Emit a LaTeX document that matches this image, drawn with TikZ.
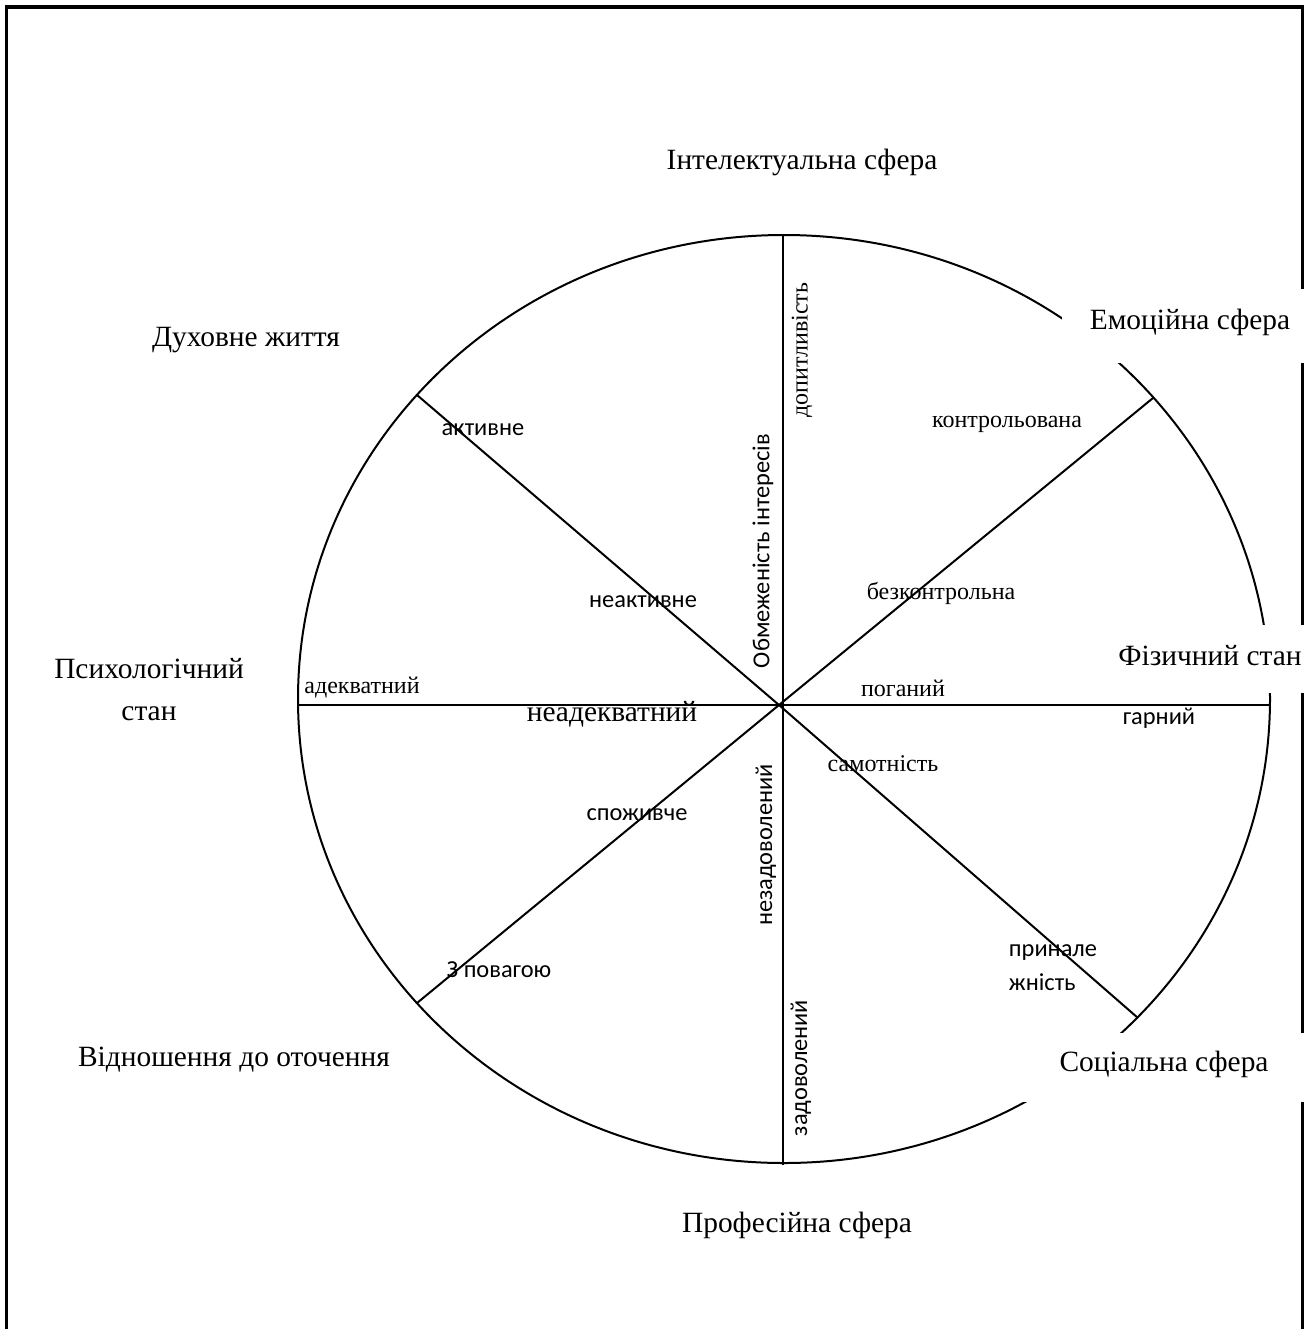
\documentclass[tikz,border=0pt]{standalone}
\usepackage{fontspec}
\setmainfont{Liberation Serif}
\newfontfamily\calib{Carlito}
\begin{document}
\begin{tikzpicture}[x=0.5pt,y=-0.5pt,
  ln/.style={line width=1pt},
  big/.style={font=\fontsize{14.7}{21}\selectfont, inner sep=0pt},
  sm/.style={font=\fontsize{12}{15}\selectfont, inner sep=0pt},
  mid/.style={font=\fontsize{14.7}{18}\selectfont, inner sep=0pt},
  sn/.style={font=\calib\fontsize{12.2}{17}\selectfont, inner sep=0pt},
  wbox/.style={fill=white, draw=none}]
\useasboundingbox (0,0) rectangle (1305,1329);
\clip (0,0) rectangle (1305,1329);
% frame
\draw[line width=1.75pt] (6.5,1400) -- (6.5,7) -- (1302.5,7) -- (1302.5,1400);
% wheel
\coordinate (C) at (779,705);
\draw[ln] (784,699) ellipse [x radius=486, y radius=464];
\coordinate (pW) at (298,705);
\coordinate (pE) at (1270,705);
\coordinate (pN) at (783,235);
\coordinate (pS) at (783,1165);
\coordinate (pNW) at (417,395);
\coordinate (pNE) at (1153,398);
\coordinate (pSW) at (417,1003);
\coordinate (pSE) at (1138,1018);
\draw[ln] (pW) -- (pE);
\draw[ln] (pN) -- (pS);
\draw[ln] (C) -- (pNW);
\draw[ln] (C) -- (pNE);
\draw[ln] (C) -- (pSW);
\draw[ln] (C) -- (pSE);
% white boxes behind right-hand labels
\fill[wbox] (1062,289) rectangle (1310,363);
\fill[wbox] (1110,625) rectangle (1310,693);
\fill[wbox] (1020,1033) rectangle (1310,1102);
% outer labels
\node[big] (intel) at (802,162) {Інтелектуальна сфера};
\node[big] (dukh) at (246,340) {Духовне життя};
\node[big] (emo) at (1190,322) {Емоційна сфера};
\node[big, align=center] (psy) at (149,690) {Психологічний\\стан};
\node[big] (fiz) at (1210,656) {Фізичний стан};
\node[big] (vidn) at (234,1060) {Відношення до оточення};
\node[big] (soc) at (1164,1064) {Соціальна сфера};
\node[big] (prof) at (797,1225) {Професійна сфера};
% spoke labels
\node[sn] (akt) at (483,430) {активне};
\node[sn] (neakt) at (643,602) {неактивне};
\node[sn, rotate=90] (obm) at (763,551) {Обмеженість інтересів};
\node[sm, rotate=90] (dop) at (802,350) {допитливість};
\node[sm] (kontr) at (1007,424) {контрольована};
\node[sm] (bezk) at (941,593) {безконтрольна};
\node[sm] (pog) at (903,688) {поганий};
\node[sn] (garn) at (1159,718) {гарний};
\node[sm] (sam) at (883,764) {самотність};
\node[sm] (adek) at (362,688) {адекватний};
\node[mid] (neadek) at (612,714) {неадекватний};
\node[sn] (spozh) at (637,815) {споживче};
\node[sn, rotate=90] (nezad) at (766,845) {незадоволений};
\node[sn, rotate=90] (zad) at (801,1068) {задоволений};
\node[sn] (povag) at (499,970) {З повагою};
\node[sn, align=left] (prin) at (1053,968) {принале\\жність};
\end{tikzpicture}
\end{document}
